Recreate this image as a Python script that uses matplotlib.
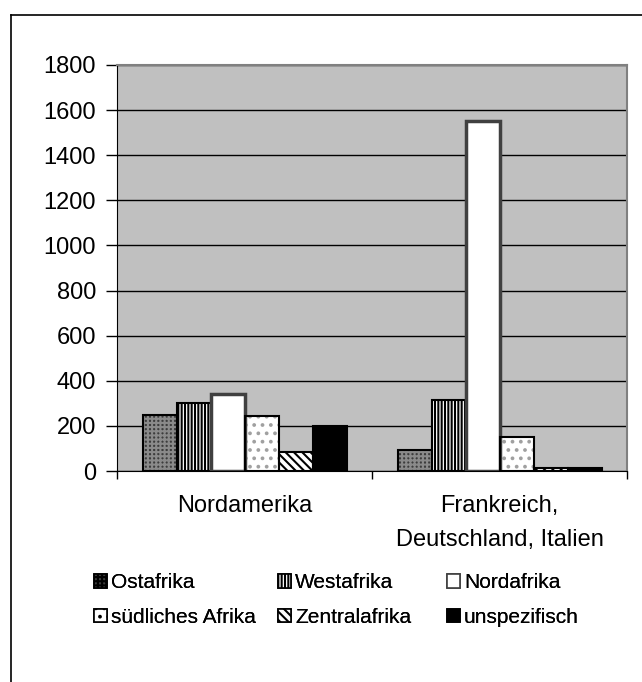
import matplotlib
matplotlib.use("Agg")
from matplotlib import pyplot as plt
from matplotlib.patches import Patch
from matplotlib.lines import Line2D

# Daten
regionen = ["Nordamerika", "Frankreich,\nDeutschland, Italien"]
herkunft = ["Ostafrika", "Westafrika", "Nordafrika",
            "südliches Afrika", "Zentralafrika", "unspezifisch"]
werte = {
    "Ostafrika":        [250, 95],
    "Westafrika":       [300, 315],
    "Nordafrika":       [340, 1550],
    "südliches Afrika": [245, 150],
    "Zentralafrika":    [85, 15],
    "unspezifisch":     [200, 15],
}
y_ticks = [0, 200, 400, 600, 800, 1000, 1200, 1400, 1600, 1800]

# Muster je Serie: (Füllung, Schraffur, Schraffurfarbe, Randfarbe, Randbreite)
stil = {
    "Ostafrika":        ("#3c3c3c", "++++", "#8a8a8a", "black", 1.5),
    "Westafrika":       ("white", "|||||", "black", "black", 1.5),
    "Nordafrika":       ("white", None, "white", "#404040", 2.5),
    "südliches Afrika": ("white", "..", "#a0a0a0", "black", 1.5),
    "Zentralafrika":    ("white", "\\\\\\\\", "black", "black", 1.5),
    "unspezifisch":     ("black", None, "black", "black", 1.5),
}

plt.rcParams['font.family'] = ['Liberation Sans', 'DejaVu Sans']
plt.rcParams['hatch.linewidth'] = 1.5

fig = plt.figure(figsize=(6.42, 6.82), dpi=100)
ax = fig.add_axes([117 / 642, 211 / 682, 510 / 642, 406 / 682])
ax.set_facecolor("#c0c0c0")

w = 1 / 7.5
x = list(range(len(regionen)))
handles = []
for j, name in enumerate(herkunft):
    fc, hatch, hc, ec, lw = stil[name]
    pos = [i + (j - 2.5) * w for i in x]
    ax.bar(pos, werte[name], width=w, color=fc, hatch=hatch,
           edgecolor=hc, linewidth=0, zorder=3)
    ax.bar(pos, werte[name], width=w, fill=False, edgecolor=ec,
           linewidth=lw, zorder=4)
    handles.append(Patch(facecolor=fc, hatch=hatch, edgecolor=ec, linewidth=1.2))

ax.set_xlim(-0.5, 1.5)
ax.set_ylim(0, 1800)
ax.set_yticks(y_ticks)
ax.yaxis.grid(True, color="black", linewidth=1)
ax.set_axisbelow(True)
ax.tick_params(axis="y", labelsize=17, length=8, width=1, direction="out", pad=7)

ax.set_xticks(x)
ax.set_xticklabels(regionen, fontsize=17, linespacing=1.75)
ax.set_xticks([-0.5, 0.5, 1.5], minor=True)
ax.tick_params(axis="x", which="major", length=0, pad=17)
ax.tick_params(axis="x", which="minor", length=6, width=1, direction="out")

for s in ["top", "right"]:
    ax.spines[s].set_color("#808080")
    ax.spines[s].set_linewidth(1.5)
ax.spines["left"].set_color("black")
ax.spines["bottom"].set_color("black")

# Legende: drei Spalten, zeilenweise gefüllt
spalten_x = [84, 268, 437]
for c, x0 in enumerate(spalten_x):
    leg = fig.legend([handles[c], handles[c + 3]], [herkunft[c], herkunft[c + 3]],
                     loc="upper left", bbox_to_anchor=(x0 / 642, 1 - 563 / 682),
                     frameon=False, fontsize=15, handlelength=0.6, handleheight=0.6,
                     handletextpad=0.2, labelspacing=0.75, borderpad=0)
    fig.add_artist(leg)

# Rahmen um das Diagramm
fig.add_artist(Line2D([11 / 642, 1], [1 - 15 / 682, 1 - 15 / 682],
                      transform=fig.transFigure, color="black", linewidth=1.2))
fig.add_artist(Line2D([11 / 642, 11 / 642], [0, 1 - 15 / 682],
                      transform=fig.transFigure, color="black", linewidth=1.2))

fig.savefig("out.png", dpi=100)
